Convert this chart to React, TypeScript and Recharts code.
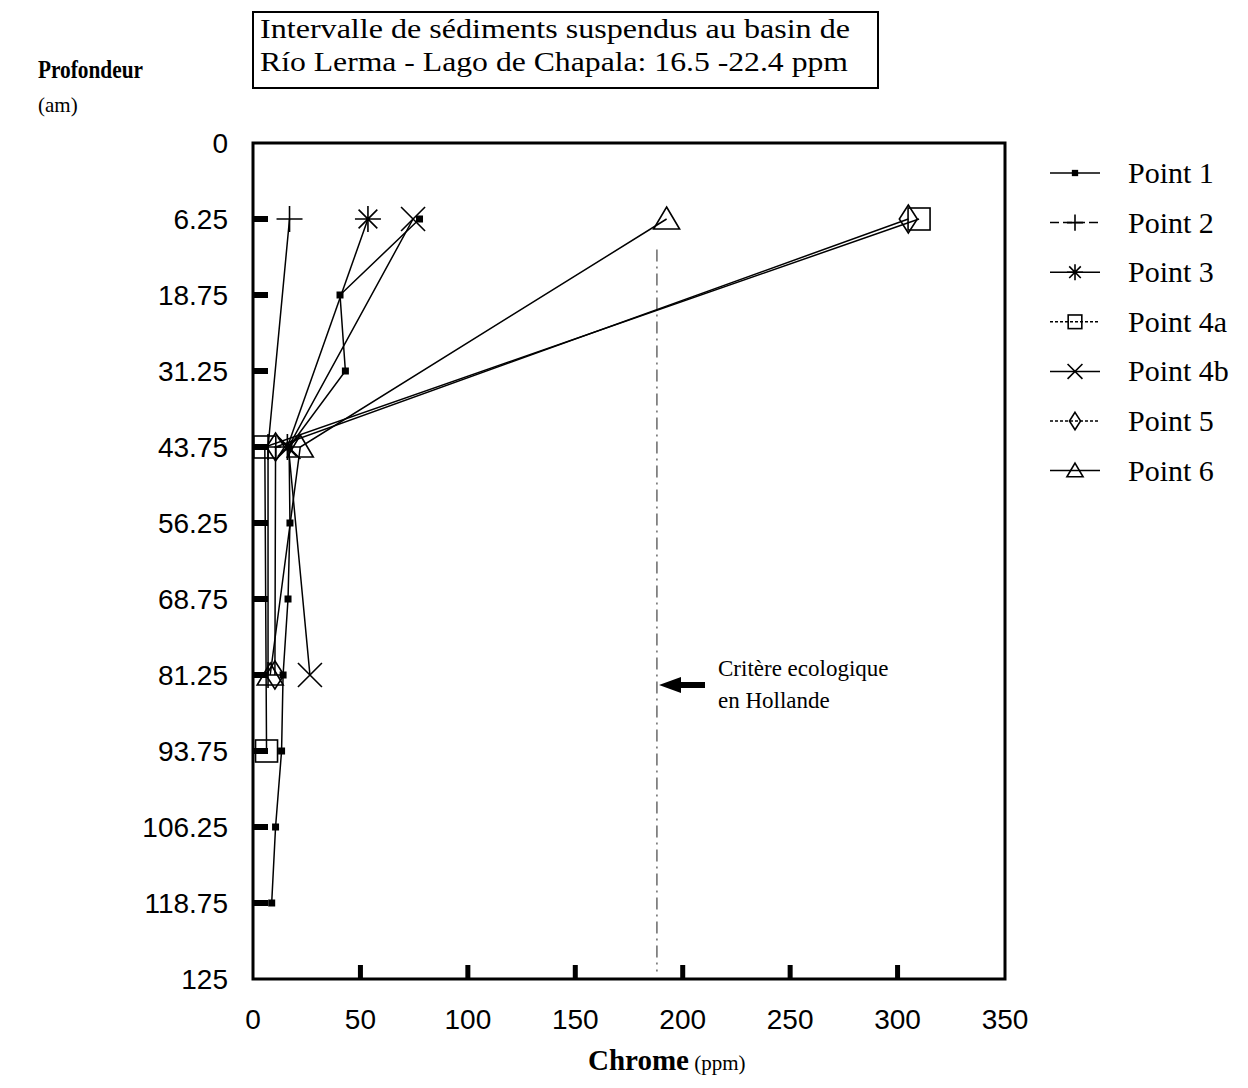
import { ScatterChart, Scatter, XAxis, YAxis, ReferenceLine, ReferenceArea } from 'recharts';

// depth levels are drawn evenly spaced, so the y axis works on the level index
const depthLabels = ['0', '6.25', '18.75', '31.25', '43.75', '56.25', '68.75', '81.25', '93.75', '106.25', '118.75', '125'];
const chromeTicks = [0, 50, 100, 150, 200, 250, 300, 350];

const seriesNames = ['Point 1', 'Point 2', 'Point 3', 'Point 4a', 'Point 4b', 'Point 5', 'Point 6'];

const point1Depths = [6.25, 18.75, 31.25, 43.75, 56.25, 68.75, 81.25, 93.75, 106.25, 118.75];
const point1Chrome = [77.5, 40.5, 43, 16.8, 17.2, 16.3, 14, 13.3, 10.5, 8.7];
const point2Depths = [6.25, 43.75, 81.25];
const point2Chrome = [17, 7, 7];
const point3Depths = [6.25, 43.75];
const point3Chrome = [53.5, 16];
const point4aDepths = [6.25, 43.75, 93.75];
const point4aChrome = [310, 5.5, 6.3];
const point4bDepths = [6.25, 43.75, 81.25];
const point4bChrome = [74.5, 16.5, 26.5];
const point5Depths = [6.25, 43.75, 81.25];
const point5Chrome = [305, 10.5, 10.2];
const point6Depths = [6.25, 43.75, 81.25];
const point6Chrome = [192.5, 22, 8];

const ecoCriterion = 188; // Critère ecologique en Hollande

const SERIF = "'Liberation Serif', 'DejaVu Serif', serif";
const SANS = "'Liberation Sans', Arial, sans-serif";

type Kind = 'dot' | 'plus' | 'star' | 'square' | 'cross' | 'diamond' | 'triangle';

const toPoints = (depths: number[], chrome: number[]) =>
  depths.map((d, i) => ({ chrome: chrome[i], level: depthLabels.indexOf(String(d)) }));

const series: { name: string; kind: Kind; dash?: string; data: { chrome: number; level: number }[] }[] = [
  { name: seriesNames[0], kind: 'dot', data: toPoints(point1Depths, point1Chrome) },
  { name: seriesNames[1], kind: 'plus', dash: '9 4', data: toPoints(point2Depths, point2Chrome) },
  { name: seriesNames[2], kind: 'star', data: toPoints(point3Depths, point3Chrome) },
  { name: seriesNames[3], kind: 'square', dash: '3 2', data: toPoints(point4aDepths, point4aChrome) },
  { name: seriesNames[4], kind: 'cross', data: toPoints(point4bDepths, point4bChrome) },
  { name: seriesNames[5], kind: 'diamond', dash: '3 2', data: toPoints(point5Depths, point5Chrome) },
  { name: seriesNames[6], kind: 'triangle', data: toPoints(point6Depths, point6Chrome) },
];

function Marker({ kind, cx, cy, s = 1 }: { kind: Kind; cx: number; cy: number; s?: number }) {
  const st = { stroke: '#000', strokeWidth: 1.6, fill: 'none' };
  if (kind === 'dot') {
    const h = 3.5 * s;
    return <rect x={cx - h} y={cy - h} width={2 * h} height={2 * h} fill="#000" />;
  }
  if (kind === 'plus') {
    const r = 13 * s;
    return <path d={`M${cx - r},${cy}H${cx + r}M${cx},${cy - r}V${cy + r}`} {...st} />;
  }
  if (kind === 'star') {
    const r = 13 * s;
    const d = r * 0.72;
    return (
      <path
        d={`M${cx - r},${cy}H${cx + r}M${cx},${cy - r}V${cy + r}M${cx - d},${cy - d}L${cx + d},${cy + d}M${cx - d},${cy + d}L${cx + d},${cy - d}`}
        {...st}
      />
    );
  }
  if (kind === 'square') {
    const h = 11 * s;
    return <rect x={cx - h} y={cy - h} width={2 * h} height={2 * h} {...st} />;
  }
  if (kind === 'cross') {
    const r = 12 * s;
    return <path d={`M${cx - r},${cy - r}L${cx + r},${cy + r}M${cx - r},${cy + r}L${cx + r},${cy - r}`} {...st} />;
  }
  if (kind === 'diamond') {
    const w = 9 * s;
    const h = 14 * s;
    return <path d={`M${cx},${cy - h}L${cx + w},${cy}L${cx},${cy + h}L${cx - w},${cy}Z`} {...st} />;
  }
  const w = 13 * s;
  return <path d={`M${cx},${cy - 12 * s}L${cx + w},${cy + 10 * s}L${cx - w},${cy + 10 * s}Z`} {...st} />;
}

const DepthTick = (props: any) => {
  const { x, y, payload } = props;
  const v = payload.value as number;
  return (
    <g>
      <text x={x} y={y} dy="0.36em" textAnchor="end" fontFamily={SANS} fontSize={28} fill="#000">
        {depthLabels[v]}
      </text>
      {v > 0 && v < depthLabels.length - 1 && <rect x={x + 25} y={y - 3} width={15} height={6} fill="#000" />}
    </g>
  );
};

const ChromeTick = (props: any) => {
  const { x, y, payload } = props;
  const v = payload.value as number;
  return (
    <g>
      <text x={x} y={y + 30} textAnchor="middle" fontFamily={SANS} fontSize={28} fill="#000">
        {v}
      </text>
      {v > 0 && v < 350 && <rect x={x - 2.5} y={y - 20 - 14} width={5} height={14} fill="#000" />}
    </g>
  );
};

// legend drawn beside the plot, rows follow the series order
const LegendBox = ({ left, top }: { left: number; top: number }) => (
  <g transform={`translate(${left},${top})`}>
    {series.map((s, i) => {
      const cy = 25 + i * 49.6;
      return (
        <g key={s.name}>
          <line x1={2} x2={52} y1={cy} y2={cy} stroke="#000" strokeWidth={1.5} strokeDasharray={s.dash} />
          <Marker kind={s.kind} cx={27} cy={cy} s={s.kind === 'dot' ? 0.9 : 0.62} />
          <text x={80} y={cy + 10} fontFamily={SERIF} fontSize={30} fill="#000">
            {s.name}
          </text>
        </g>
      );
    })}
  </g>
);

export default function App() {
  return (
    <div style={{ position: 'relative', width: 1232, height: 1072, background: '#fff' }}>
      <ScatterChart width={1232} height={1072} margin={{ top: 135, right: 235, bottom: 0, left: 0 }}>
        <XAxis
          type="number"
          dataKey="chrome"
          domain={[0, 350]}
          ticks={chromeTicks}
          interval={0}
          height={101}
          tickSize={0}
          tickMargin={20}
          axisLine={false}
          tickLine={false}
          tick={ChromeTick}
        />
        <YAxis
          type="number"
          dataKey="level"
          domain={[0, depthLabels.length - 1]}
          ticks={depthLabels.map((_, i) => i)}
          interval={0}
          reversed
          width={245}
          tickSize={0}
          tickMargin={25}
          axisLine={false}
          tickLine={false}
          tick={DepthTick}
        />
        <ReferenceArea
          x1={0}
          x2={350}
          y1={0}
          y2={depthLabels.length - 1}
          fill="none"
          stroke="#000"
          strokeWidth={3}
        />
        <ReferenceLine
          segment={[
            { x: ecoCriterion, y: 1.4 },
            { x: ecoCriterion, y: 10.9 },
          ]}
          stroke="#444"
          strokeWidth={1.2}
          strokeDasharray="12 5 2 5"
        />
        {series.map((s) => (
          <Scatter
            key={s.name}
            name={s.name}
            data={s.data}
            fill="#000"
            line={{ stroke: '#000', strokeWidth: 1.5 }}
            lineType="joint"
            isAnimationActive={false}
            shape={(p: any) => <Marker kind={s.kind} cx={p.cx} cy={p.cy} />}
          />
        ))}
      </ScatterChart>
      <svg
        width={1232}
        height={1072}
        style={{ position: 'absolute', left: 0, top: 0, pointerEvents: 'none' }}
      >
        <LegendBox left={1040} top={140} />
        <rect x={245} y={4} width={625} height={76} fill="none" stroke="#000" strokeWidth={2} />
        <text x={252} y={30} fontFamily={SERIF} fontSize={27} textLength={590} lengthAdjust="spacingAndGlyphs" fill="#000">
          Intervalle de sédiments suspendus au basin de
        </text>
        <text x={252} y={63} fontFamily={SERIF} fontSize={27} textLength={588} lengthAdjust="spacingAndGlyphs" fill="#000">
          Río Lerma - Lago de Chapala: 16.5 -22.4 ppm
        </text>
        <text x={30} y={70} fontFamily={SERIF} fontSize={25} fontWeight="bold" textLength={105} lengthAdjust="spacingAndGlyphs" fill="#000">
          Profondeur
        </text>
        <text x={30} y={104} fontFamily={SERIF} fontSize={21} fill="#000">
          (am)
        </text>
        <text x={580} y={1062} fontFamily={SERIF} fill="#000">
          <tspan fontSize={29} fontWeight="bold">Chrome</tspan>
          <tspan fontSize={21}> (ppm)</tspan>
        </text>
        <text x={710} y={668} fontFamily={SERIF} fontSize={23} fill="#000">
          Critère ecologique
        </text>
        <text x={710} y={700} fontFamily={SERIF} fontSize={23} fill="#000">
          en Hollande
        </text>
        <path d="M651,677 L673,669 L673,674 L697,674 L697,680 L673,680 L673,685 Z" fill="#000" />
      </svg>
    </div>
  );
}
